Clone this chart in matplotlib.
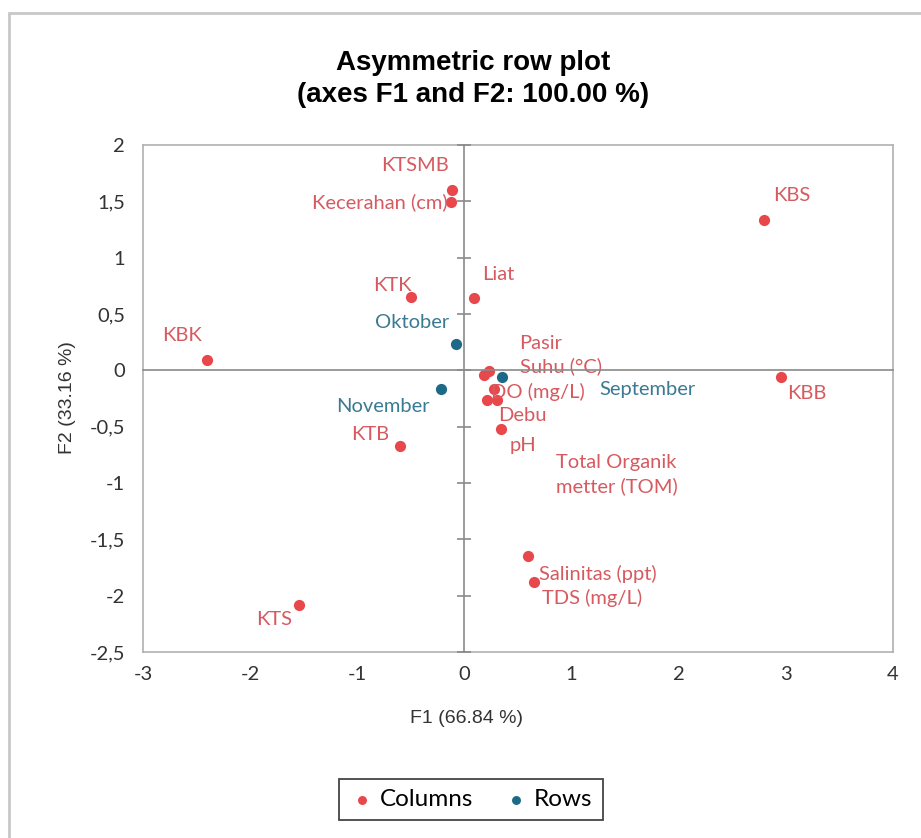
import numpy as np
import matplotlib
matplotlib.use("Agg")
import matplotlib.pyplot as plt
from matplotlib.ticker import FuncFormatter
from matplotlib.patches import Rectangle

# column points (red)
col_names = ["KTSMB", "Kecerahan (cm)", "KBS", "KTK", "Liat", "KBK",
             "Pasir", "Suhu (°C)", "DO (mg/L)", "Debu", "Total Organik\nmetter (TOM)",
             "pH", "KBB", "KTB", "KTS", "Salinitas (ppt)", "TDS (mg/L)"]
col_f1 = [-0.12, -0.13, 2.80, -0.50, 0.09, -2.40,
          0.18, 0.23, 0.28, 0.21, 0.30,
          0.34, 2.95, -0.60, -1.54, 0.59, 0.65]
col_f2 = [1.60, 1.49, 1.33, 0.65, 0.64, 0.09,
          -0.04, -0.01, -0.17, -0.26, -0.26,
          -0.52, -0.06, -0.67, -2.08, -1.65, -1.88]

# row points (blue)
row_names = ["Oktober", "November", "September"]
row_f1 = [-0.08, -0.22, 0.35]
row_f2 = [0.23, -0.17, -0.06]

xticks = [-3, -2, -1, 0, 1, 2, 3, 4]
yticks = [-2.5, -2, -1.5, -1, -0.5, 0, 0.5, 1, 1.5, 2]

# label placement (offset in pixels, alignment)
col_off = {
    "KTSMB": (-37, 25, "center"),
    "Kecerahan (cm)": (-3, 0, "right"),
    "KBS": (27, 25, "center"),
    "KTK": (-18, 12, "center"),
    "Liat": (24, 24, "center"),
    "KBK": (-25, 25, "center"),
    "Pasir": (57, 31, "center"),
    "Suhu (°C)": (72, 5, "center"),
    "DO (mg/L)": (43, -2, "center"),
    "Debu": (35, -16, "center"),
    "Total Organik\nmetter (TOM)": (59, -75, "left"),
    "pH": (22, -17, "center"),
    "KBB": (26, -16, "center"),
    "KTB": (-30, 11, "center"),
    "KTS": (-25, -15, "center"),
    "Salinitas (ppt)": (70, -18, "center"),
    "TDS (mg/L)": (58, -16, "center"),
}
row_off = {
    "Oktober": (-44, 22, "center"),
    "November": (-58, -17, "center"),
    "September": (146, -12, "center"),
}

red = "#e8474c"
red_txt = "#d65a60"
blue = "#1d6a88"
blue_txt = "#3a7a92"
lab_font = "Lato"
lab_size = 14.5

fig = plt.figure(figsize=(9.21, 8.38), dpi=100)
W, H = 921, 838
rect = [143 / W, 1 - 652 / H, (893 - 143) / W, (652 - 145) / H]
ax = fig.add_axes(rect)

ax.scatter(col_f1, col_f2, s=65, color=red, zorder=3, label="Columns", linewidths=0)
ax.scatter(row_f1, row_f2, s=65, color=blue, zorder=3, label="Rows", linewidths=0)

for n, x, y in zip(col_names, col_f1, col_f2):
    dx, dy, ha = col_off[n]
    ax.annotate(n, (x, y), xytext=(dx, dy), textcoords="offset pixels",
                ha=ha, va="center", color=red_txt, fontsize=lab_size,
                family=lab_font, linespacing=1.4)
for n, x, y in zip(row_names, row_f1, row_f2):
    dx, dy, ha = row_off[n]
    ax.annotate(n, (x, y), xytext=(dx, dy), textcoords="offset pixels",
                ha=ha, va="center", color=blue_txt, fontsize=lab_size,
                family=lab_font)

ax.set_xlim(-3, 4)
ax.set_ylim(-2.5, 2)
ax.set_xticks(xticks)
ax.set_yticks(yticks)
comma = FuncFormatter(lambda v, p: f"{v:g}".replace(".", ","))
ax.xaxis.set_major_formatter(comma)
ax.yaxis.set_major_formatter(comma)
ax.tick_params(length=0, labelsize=14.5, labelcolor="#333333", pad=10)
ax.tick_params(axis="y", pad=13)
for lab in ax.get_xticklabels() + ax.get_yticklabels():
    lab.set_family(lab_font)
for s in ax.spines.values():
    s.set_color("#b0b0b0")
    s.set_linewidth(1.2)

# zero lines with crossing ticks on the vertical one
axz = fig.add_axes(rect, sharex=ax, sharey=ax)
axz.patch.set_visible(False)
axz.spines["top"].set_visible(False)
axz.spines["right"].set_visible(False)
axz.spines["left"].set_position(("data", 0))
axz.spines["bottom"].set_position(("data", 0))
for s in ("left", "bottom"):
    axz.spines[s].set_color("#8a8a8a")
    axz.spines[s].set_linewidth(1.2)
axz.tick_params(axis="y", direction="inout", length=10, color="#8a8a8a",
                width=1.2, labelleft=False)
axz.tick_params(axis="x", length=0, labelbottom=False)

fig.text(473 / W, 1 - 79 / H, "Asymmetric row plot\n(axes F1 and F2: 100.00 %)",
         ha="center", va="center", fontsize=20, fontweight="bold",
         family="Liberation Sans", linespacing=1.35)
fig.text(466 / W, 1 - 718 / H, "F1 (66.84 %)", ha="center", va="center",
         fontsize=14, family="Liberation Sans", color="#333333")
fig.text(67 / W, 1 - 398 / H, "F2 (33.16 %)", ha="center", va="center",
         rotation=90, fontsize=14, family="Liberation Sans", color="#333333")

leg = fig.legend(loc="center", bbox_to_anchor=(471 / W, 1 - 799.5 / H), ncol=2,
                 fancybox=False, edgecolor="#444444", framealpha=1,
                 prop={"family": lab_font, "size": 17.5}, markerscale=0.8,
                 handletextpad=0.25, columnspacing=1.25, borderpad=0.42,
                 handlelength=1.0)
leg.get_frame().set_linewidth(1.3)

# outer chart border (top and left visible)
fig.patches.append(Rectangle((9 / W, -0.1), 1.2, (1 - 13 / H) + 0.1,
                             transform=fig.transFigure, fill=False,
                             edgecolor="#c8c8c8", linewidth=2))

fig.savefig("out.png", dpi=100)
